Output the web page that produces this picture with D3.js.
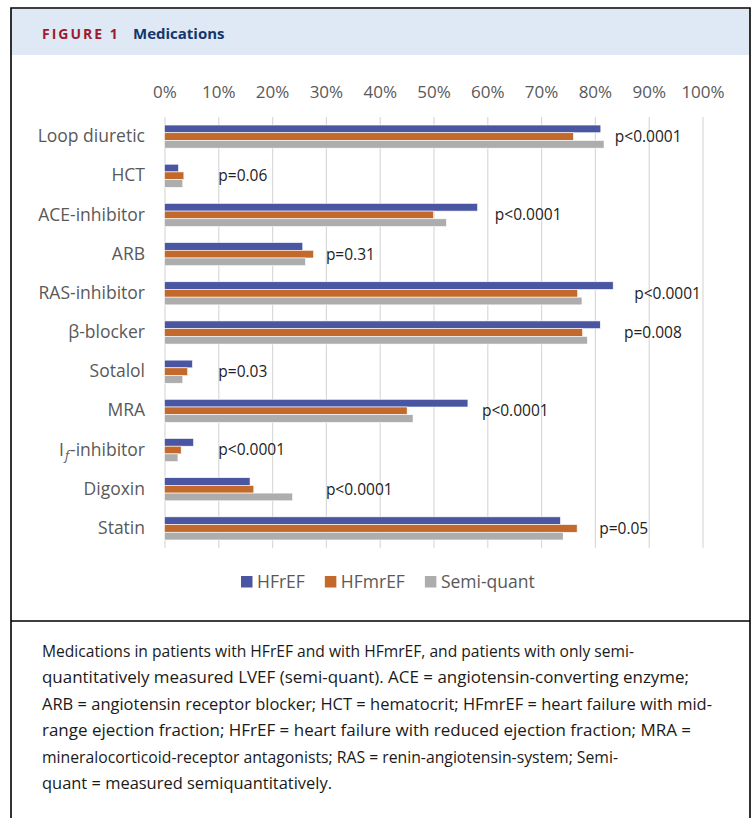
<!DOCTYPE html>
<html>
<head>
<meta charset="utf-8">
<script src="https://cdn.jsdelivr.net/npm/d3@7"></script>
<style>
  body { margin: 0; background: #fff; }
  svg text { font-family: "Open Sans", sans-serif; }
</style>
</head>
<body>
<svg id="svgview" width="755" height="818"></svg>
<script>
'use strict'

// medication categories, top to bottom
var categories = ['Loop diuretic','HCT','ACE-inhibitor','ARB','RAS-inhibitor','β-blocker','Sotalol','MRA','If-inhibitor','Digoxin','Statin']
var series = ['HFrEF','HFmrEF','Semi-quant']

// % of patients
var hfref     = [81.1, 2.6, 58.2, 25.7, 83.4, 81.0, 5.2, 56.4, 5.4, 15.9, 73.6]
var hfmref    = [76.0, 3.6, 50.0, 27.7, 76.8, 77.7, 4.3, 45.1, 3.1, 16.6, 76.7]
var semiquant = [81.7, 3.4, 52.4, 26.2, 77.6, 78.6, 3.4, 46.2, 2.5, 23.8, 74.1]

// p-value annotations and where they sit on the % axis
var pvalues = ['p<0.0001','p=0.06','p<0.0001','p=0.31','p<0.0001','p=0.008','p=0.03','p<0.0001','p<0.0001','p<0.0001','p=0.05']
var pAt     = [83.7, 10, 61.4, 30, 87.3, 85.4, 10, 59, 10, 30, 80.8]

var tickValues = [0,10,20,30,40,50,60,70,80,90,100]

var captionLines = [
  'Medications in patients with HFrEF and with HFmrEF, and patients with only semi-',
  'quantitatively measured LVEF (semi-quant). ACE = angiotensin-converting enzyme;',
  'ARB = angiotensin receptor blocker; HCT = hematocrit; HFmrEF = heart failure with mid-',
  'range ejection fraction; HFrEF = heart failure with reduced ejection fraction; MRA =',
  'mineralocorticoid-receptor antagonists; RAS = renin-angiotensin-system; Semi-',
  'quant = measured semiquantitatively.'
]
var captionWidths = [592, 647, 670, 649, 576, 290]

var colors = ['#4a56a2','#c3692b','#adadad']

var svg = d3.select('#svgview')

// frame + header
svg.append('rect').attr('x', 11).attr('y', 9).attr('width', 739).attr('height', 46).attr('fill', '#dee9f5')
svg.append('path')
  .attr('d', 'M11,830 V8 H750 V830 M11,621 H750')
  .attr('fill', 'none').attr('stroke', '#000').attr('stroke-width', 1.6)

svg.append('text')
  .attr('x', 42).attr('y', 38.5)
  .attr('fill', '#a0192e').attr('font-weight', 700).attr('font-size', 14)
  .attr('letter-spacing', 2)
  .text('FIGURE 1')
svg.append('text')
  .attr('x', 133).attr('y', 39)
  .attr('fill', '#14366b').attr('font-weight', 700).attr('font-size', 15)
  .text('Medications')

// scales
var x = d3.scaleLinear().domain([0, 100]).range([164.5, 702.5])
var y = d3.scaleBand().domain(categories).range([117, 548]).paddingInner(0.41).paddingOuter(0.205)
var ySub = d3.scaleBand().domain(series).range([0, y.bandwidth()])

var g = svg.append('g')

// gridlines
g.append('g')
  .attr('transform', 'translate(0,548)')
  .call(d3.axisBottom(x).tickValues(tickValues).tickSize(-431).tickFormat(''))
  .call(a => a.select('.domain').remove())
  .call(a => a.selectAll('line').attr('stroke', '#d9d9d9').attr('stroke-width', 1.2))

// top tick labels
g.append('g')
  .attr('transform', 'translate(0,98)')
  .call(d3.axisTop(x).tickValues(tickValues).tickSize(0).tickPadding(0).tickFormat(d => d + '%'))
  .call(a => a.select('.domain').remove())
  .call(a => a.selectAll('text').attr('font-size', 17).attr('fill', '#595959').attr('font-family', '"Open Sans", sans-serif'))

// category labels
var yLab = g.append('g')
  .attr('transform', 'translate(145,0)')
  .call(d3.axisLeft(y).tickSize(0).tickPadding(0))
yLab.select('.domain').remove()
yLab.selectAll('text')
  .attr('font-size', 17.5).attr('fill', '#595959').attr('font-family', '"Open Sans", sans-serif')
  .each(function(d) {
    if (d == 'If-inhibitor') {
      let t = d3.select(this).text('')
      t.append('tspan').text('I')
      t.append('tspan').text('f').attr('font-style', 'italic').attr('font-size', 13).attr('dy', 4).attr('dx', 1)
      t.append('tspan').text('-inhibitor').attr('dy', -4).attr('dx', 1)
    }
  })

// bars
var rows = categories.map((c, i) => ({cat: c, vals: [hfref[i], hfmref[i], semiquant[i]]}))

var groups = g.selectAll('g.row')
  .data(rows)
  .enter().append('g')
    .attr('class', 'row')
    .attr('transform', d => 'translate(0,' + y(d.cat) + ')')

groups.selectAll('rect')
  .data(d => d.vals.map((v, k) => ({s: series[k], v: v, k: k})))
  .enter().append('rect')
    .attr('x', x(0))
    .attr('y', d => ySub(d.s))
    .attr('width', d => x(d.v) - x(0))
    .attr('height', ySub.bandwidth())
    .attr('fill', d => colors[d.k])
    .attr('stroke', '#fff').attr('stroke-width', 0.6)

// p-values
g.selectAll('text.pval')
  .data(categories)
  .enter().append('text')
    .attr('class', 'pval')
    .attr('x', (d, i) => x(pAt[i]))
    .attr('y', d => y(d) + y.bandwidth() / 2)
    .attr('dy', '0.35em')
    .attr('font-size', 15.5).attr('fill', '#222')
    .text((d, i) => pvalues[i])

// legend
var legend = svg.append('g').attr('transform', 'translate(241,582)')
var lx = 0
series.forEach(function(s, k) {
  legend.append('rect').attr('x', lx).attr('y', -6).attr('width', 11.5).attr('height', 11.5).attr('fill', colors[k])
  let t = legend.append('text').attr('x', lx + 16).attr('y', 0).attr('dy', '0.35em')
    .attr('font-size', 17.5).attr('fill', '#595959').text(s)
  lx += 16 + t.node().getComputedTextLength() + 20
})

// caption
svg.append('g').selectAll('text')
  .data(captionLines)
  .enter().append('text')
    .attr('x', 42)
    .attr('y', (d, i) => 656.5 + i * 26.5)
    .attr('font-size', 16.5).attr('fill', '#1a1a1a')
    .attr('textLength', (d, i) => captionWidths[i])
    .attr('lengthAdjust', 'spacingAndGlyphs')
    .text(d => d)
</script>
</body>
</html>
